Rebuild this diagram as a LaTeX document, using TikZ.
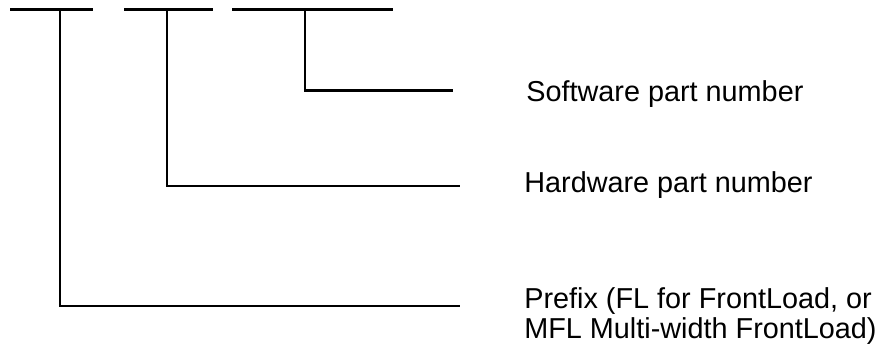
\documentclass[tikz,border=0pt]{standalone}
\usepackage{fontspec}
\setmainfont{Liberation Sans}
\usetikzlibrary{positioning,calc}

\tikzset{
    bar/.style={line width=1.3pt},
    lbl/.style={anchor=base west, inner sep=0pt, font=\fontsize{16.4}{18}\selectfont}
}

\begin{document}
\begin{tikzpicture}[x=0.02cm,y=-0.02cm]
    \useasboundingbox (0,0) rectangle (880,351);
    % the three fields of the part number
    \coordinate (pfxA) at (10,9.5);
    \coordinate (pfxB) at (93,9.5);
    \coordinate (hwA) at (124,9.5);
    \coordinate (hwB) at (213,9.5);
    \coordinate (swA) at (232,9.5);
    \coordinate (swB) at (393,9.5);
    \coordinate (pfxT) at (60,9.5);
    \coordinate (hwT) at (167,9.5);
    \coordinate (swT) at (305,9.5);
    \draw[bar] (pfxA) -- (pfxB);
    \draw[bar] (hwA) -- (hwB);
    \draw[bar] (swA) -- (swB);
    % labels
    \node[lbl] (sw) at (526,102) {Software part number};
    \node[lbl] (hw) at (524,193) {Hardware part number};
    \node[lbl] (pfx) at (524,309) {Prefix (FL for FrontLoad, or};
    \node[lbl] (pfx2) at (524,339) {MFL Multi-width FrontLoad)};
    \coordinate (swE) at (453,90.5);
    \coordinate (hwE) at (460,186);
    \coordinate (pfxE) at (460,306);
    % leaders
    \draw[bar] (swT) |- (swE);
    \draw[bar] (hwT) |- (hwE);
    \draw[bar] (pfxT) |- (pfxE);
\end{tikzpicture}
\end{document}
